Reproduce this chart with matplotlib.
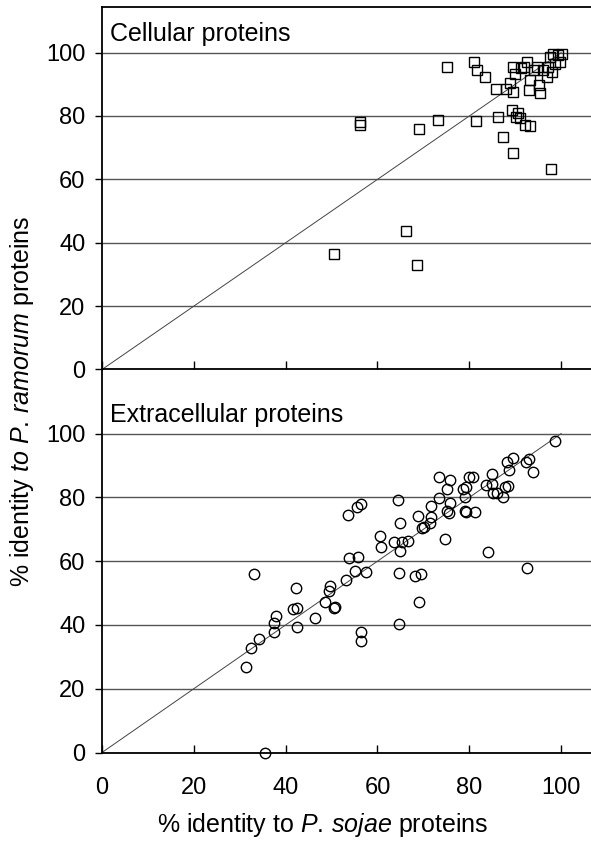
import matplotlib
matplotlib.use("Agg")
import matplotlib.pyplot as plt

matplotlib.rcParams['font.family'] = 'Liberation Sans'
matplotlib.rcParams['mathtext.fontset'] = 'custom'
matplotlib.rcParams['mathtext.rm'] = 'Liberation Sans'
matplotlib.rcParams['mathtext.it'] = 'Liberation Sans:italic'

# ── data ──────────────────────────────────────────────────────────
# Cellular proteins: % identity to P. sojae (x) vs P. ramorum (y)
cell_x = [75.2, 81.1, 81.6, 83.4, 85.8, 88.0, 88.9, 89.6, 89.6, 90.0,
          91.8, 92.5, 93.2, 92.9, 94.7, 95.1, 95.4, 96.9, 96.1, 97.2,
          97.6, 98.3, 99.4, 100.1, 99.8, 98.7, 98.0, 94.0, 91.2,
          56.2, 56.2, 69.1, 73.2, 81.5, 86.3, 89.3, 90.7, 90.2, 91.0,
          92.2, 93.2, 87.3, 89.6, 97.7, 66.2, 50.5, 68.7]
cell_y = [95.5, 97.1, 94.5, 92.2, 88.6, 88.6, 90.3, 87.5, 95.5, 93.4,
          95.5, 97.1, 91.3, 88.2, 95.5, 89.7, 87.1, 92.4, 94.5, 95.5,
          98.7, 99.7, 99.3, 99.7, 97.1, 96.5, 94.0, 94.5, 95.0,
          78.0, 77.0, 75.8, 78.7, 78.5, 79.6, 81.9, 80.8, 79.7, 79.3,
          77.1, 76.8, 73.4, 68.4, 63.2, 43.7, 36.6, 33.0]

# Extracellular proteins
extra_x = [98.7, 89.6, 88.3, 92.9, 92.4, 93.8, 88.7, 84.9, 83.7, 84.9,
           85.1, 86.0, 87.3, 87.8, 88.5, 73.3, 75.7, 80.0, 80.8, 75.1,
           78.6, 79.2, 79.0, 73.3, 75.7, 71.7, 75.1, 75.5, 79.0, 79.2,
           81.2, 64.4, 56.4, 55.6, 53.6, 68.9, 71.7, 71.5, 64.9, 69.6,
           70.1, 60.6, 60.8, 63.5, 65.3, 66.7, 64.9, 74.7, 84.0, 53.7,
           55.8, 92.5, 55.1, 57.4, 53.2, 33.0, 64.6, 68.2, 69.5, 69.1,
           64.6, 42.3, 49.7, 49.5, 48.6, 50.8, 50.6, 46.4, 41.7, 42.4,
           37.8, 37.5, 37.5, 42.4, 34.3, 32.4, 31.3, 56.5, 56.3, 35.6]
extra_y = [97.6, 92.5, 91.1, 92.1, 91.2, 87.9, 88.6, 87.3, 83.9, 84.2,
           81.4, 81.4, 80.2, 83.1, 83.5, 86.5, 85.4, 86.3, 86.5, 82.7,
           82.5, 83.1, 80.0, 79.8, 78.3, 77.3, 75.8, 75.0, 75.8, 75.4,
           75.4, 79.2, 77.9, 77.1, 74.4, 74.1, 73.8, 72.0, 72.0, 70.3,
           70.8, 67.9, 64.5, 66.1, 66.1, 66.4, 63.2, 67.1, 62.9, 60.9,
           61.2, 58.0, 56.9, 56.7, 54.1, 56.0, 56.2, 55.3, 55.9, 47.2,
           40.3, 51.5, 52.2, 50.7, 47.3, 45.5, 45.2, 42.3, 44.9, 45.2,
           42.8, 40.5, 37.7, 39.2, 35.5, 32.7, 26.7, 37.7, 35.0, 0.0]

ticks = [0, 20, 40, 60, 80, 100]
diag = [0, 100]

# ── figure ────────────────────────────────────────────────────────
fig = plt.figure(figsize=(5.91, 8.41), dpi=100)
W, H = 591, 841
left = 102 / W
ax1 = fig.add_axes([left, 1 - 369.5 / H, 1 - left, (369.5 - 7.3) / H])
ax2 = fig.add_axes([left, 1 - 752.5 / H, 1 - left, (752.5 - 369.5) / H])

panels = [
    (ax1, cell_x, cell_y, 's', "Cellular proteins", 114.3, 40.5),
    (ax2, extra_x, extra_y, 'o', "Extracellular proteins", 120.1, 421.5),
]
for ax, xs, ys, mk, title, ytop, base_px in panels:
    ax.set_xlim(0, 106.5)
    ax.set_ylim(0, ytop)
    ax.set_yticks(ticks)
    ax.set_xticks(ticks)
    ax.yaxis.grid(True, color='#555555', linewidth=1.0)
    ax.set_axisbelow(True)
    ax.plot(diag, diag, color='#444444', linewidth=0.7, zorder=2)
    ax.plot(xs, ys, linestyle='none', marker=mk, markersize=7.5,
            markerfacecolor='none', markeredgecolor='black',
            markeredgewidth=1.0, zorder=3, clip_on=False)
    ax.spines['right'].set_visible(False)
    for s in ['left', 'bottom', 'top']:
        ax.spines[s].set_linewidth(1.3)
    ax.tick_params(axis='y', direction='out', length=5, width=1.0,
                   labelsize=17, pad=7)
    ax.tick_params(axis='x', direction='in', length=6, width=1.0,
                   labelsize=17, pad=18)
    fig.text(110 / W, 1 - base_px / H, title, fontsize=18,
             va='baseline', ha='left')

ax2.spines['top'].set_visible(False)
ax1.tick_params(axis='x', labelbottom=False)

fig.text(323 / W, 1 - 825 / H,
         r"% identity to $\mathit{P.\!\ sojae}$ proteins",
         ha='center', va='center', fontsize=18)

fig.text(22 / W, 1 - 401 / H,
         r"% identity $\mathit{to\ P.\!\ ramorum}$ proteins",
         rotation=90, ha='center', va='center', fontsize=18)

plt.savefig("out.png", dpi=100)
